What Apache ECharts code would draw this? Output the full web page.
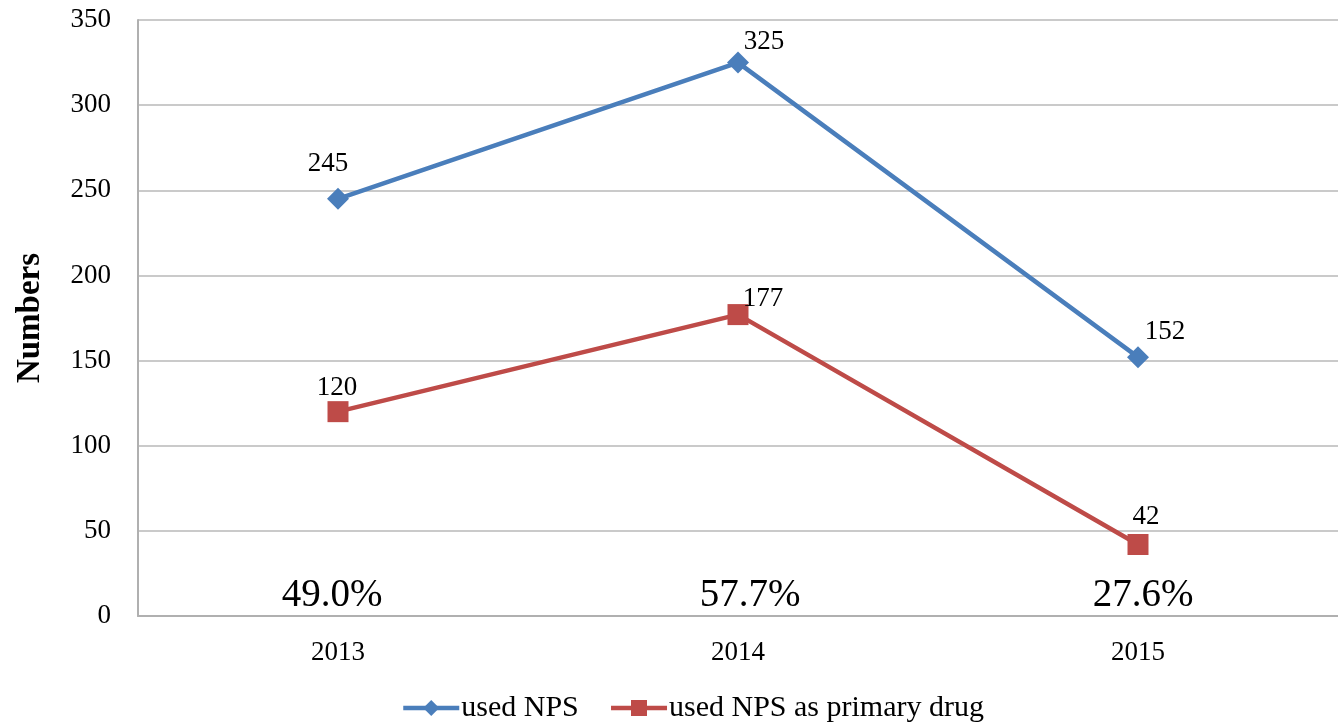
<!DOCTYPE html>
<html>
<head>
<meta charset="utf-8">
<script src="https://cdn.jsdelivr.net/npm/echarts@6/dist/echarts.min.js"></script>
<style>
  html, body { margin: 0; padding: 0; background: #fff; }
  #chart { width: 1338px; height: 723px; }
</style>
</head>
<body>
<div id="chart"></div>
<script>
  // data
  var years = ['2013', '2014', '2015']
  var usedNps = [245, 325, 152]
  var usedNpsPrimary = [120, 177, 42]
  var shares = ['49.0%', '57.7%', '27.6%']
  var shareY = 12 // where the share labels sit on the value axis

  var font = '"Liberation Serif", "Times New Roman", serif'
  var blue = '#4a7ebb'
  var red = '#be4b48'

  var chart = echarts.init(document.getElementById('chart'))
  var option = {
    animation: false,
    textStyle: { fontFamily: font, color: '#000' },
    grid: { left: 138, right: 0, top: 20, bottom: 107 },
    legend: {
      top: 688,
      left: 396,
      itemWidth: 56,
      itemHeight: 20,
      itemGap: 30,
      lineStyle: { width: 4.5 },
      textStyle: { fontFamily: font, fontSize: 30, color: '#000', padding: [0, 0, 0, -3] },
      data: ['used NPS', 'used NPS as primary drug']
    },
    xAxis: {
      type: 'category',
      data: years,
      boundaryGap: true,
      axisLine: { lineStyle: { color: '#b0b0b0', width: 2 } },
      axisTick: { show: false },
      axisLabel: { fontFamily: font, fontSize: 27, color: '#000', margin: 23 }
    },
    yAxis: {
      type: 'value',
      min: 0,
      max: 350,
      interval: 50,
      name: 'Numbers',
      nameLocation: 'middle',
      nameGap: 91,
      nameTextStyle: { fontFamily: font, fontSize: 33, fontWeight: 'bold', color: '#000' },
      axisLine: { show: true, lineStyle: { color: '#b0b0b0', width: 2 } },
      axisTick: { show: false },
      axisLabel: { fontFamily: font, fontSize: 27, color: '#000', margin: 27 },
      splitLine: { lineStyle: { color: '#b8b8b8', width: 1.5 } }
    },
    series: [
      {
        name: 'used NPS',
        type: 'line',
        data: usedNps,
        symbol: 'diamond',
        symbolSize: 22,
        color: blue,
        lineStyle: { width: 4.5, color: blue },
        label: {
          show: true,
          fontFamily: font,
          fontSize: 27,
          color: '#000',
          position: 'top',
          distance: 12
        },
        labelLayout: function (p) {
          var off = [[-10, 2], [26, 16], [27, 11]]
          return { dx: off[p.dataIndex][0], dy: off[p.dataIndex][1] }
        }
      },
      {
        name: 'used NPS as primary drug',
        type: 'line',
        data: usedNpsPrimary,
        symbol: 'rect',
        symbolSize: 21,
        color: red,
        lineStyle: { width: 4.5, color: red },
        label: {
          show: true,
          fontFamily: font,
          fontSize: 27,
          color: '#000',
          position: 'top',
          distance: 12
        },
        labelLayout: function (p) {
          var off = [[-1, 12], [25, 20], [8, 8]]
          return { dx: off[p.dataIndex][0], dy: off[p.dataIndex][1] }
        }
      },
      {
        name: 'share',
        type: 'scatter',
        symbolSize: 0,
        silent: true,
        data: years.map(function (y) { return [y, shareY] }),
        label: {
          show: true,
          position: 'inside',
          fontFamily: font,
          fontSize: 39,
          color: '#000',
          opacity: 1,
          textBorderWidth: 0,
          formatter: function (p) { return shares[p.dataIndex] }
        },
        labelLayout: function (p) {
          var dx = [-6, 12, 5]
          return { dx: dx[p.dataIndex] }
        }
      }
    ]
  }
  chart.setOption(option)
</script>
</body>
</html>
